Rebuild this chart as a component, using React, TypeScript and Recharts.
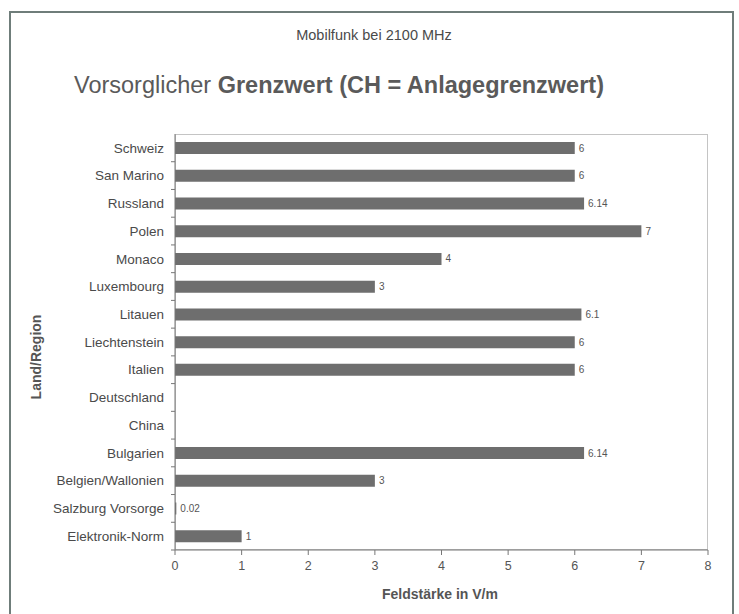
import React from 'react';
import { BarChart, Bar, XAxis, YAxis, LabelList } from 'recharts';

const countries = [
  'Schweiz',
  'San Marino',
  'Russland',
  'Polen',
  'Monaco',
  'Luxembourg',
  'Litauen',
  'Liechtenstein',
  'Italien',
  'Deutschland',
  'China',
  'Bulgarien',
  'Belgien/Wallonien',
  'Salzburg Vorsorge',
  'Elektronik-Norm',
];

const fieldStrength: (number | null)[] = [6, 6, 6.14, 7, 4, 3, 6.1, 6, 6, null, null, 6.14, 3, 0.02, 1];

const xTicks = [0, 1, 2, 3, 4, 5, 6, 7, 8];

const data = countries.map((land, i) => ({ land, wert: fieldStrength[i] }));

const FONT = '"Liberation Sans", Arial, sans-serif';

const PLOT_LEFT = 175;
const PLOT_TOP = 134;
const PLOT_W = 533;
const PLOT_H = 416;

function CategoryTick(props: any) {
  const { x, y, payload } = props;
  const band = PLOT_H / countries.length;
  return (
    <g>
      <text x={x} y={y} dy="0.35em" textAnchor="end" fontSize={13.5} fill="#4a4a4a" fontFamily={FONT}>
        {payload.value}
      </text>
      <line x1={PLOT_LEFT - 4} x2={PLOT_LEFT} y1={y + band / 2} y2={y + band / 2} stroke="#777" />
    </g>
  );
}

export default function App() {
  return (
    <div style={{ position: 'absolute', left: 0, top: 0, width: 739, height: 614, background: '#fff', fontFamily: FONT, overflow: 'hidden' }}>
      <div style={{ position: 'absolute', left: 9, top: 11, width: 721, height: 640, border: '2px solid #6f7d7a' }} />
      <div style={{ position: 'absolute', left: 0, width: 748, top: 27, textAlign: 'center', fontSize: 14.5, color: '#4a4a4a' }}>
        Mobilfunk bei 2100 MHz
      </div>
      <div style={{ position: 'absolute', left: 74, top: 72, fontSize: 23.5, color: '#5a5a5a', whiteSpace: 'nowrap' }}>
        <span>Vorsorglicher </span>
        <span style={{ fontWeight: 'bold' }}>Grenzwert (CH = Anlagegrenzwert)</span>
      </div>
      <div style={{ position: 'absolute', left: PLOT_LEFT, top: PLOT_TOP, width: PLOT_W, height: PLOT_H, border: '1px solid #c4c4c4', boxSizing: 'border-box' }} />
      <div
        style={{
          position: 'absolute',
          left: 36,
          top: 357,
          transform: 'translate(-50%, -50%) rotate(-90deg)',
          fontSize: 14,
          fontWeight: 'bold',
          color: '#555',
          whiteSpace: 'nowrap',
        }}
      >
        Land/Region
      </div>
      <div style={{ position: 'absolute', left: 382, top: 586, fontSize: 14, fontWeight: 'bold', color: '#555', whiteSpace: 'nowrap' }}>
        Feldstärke in V/m
      </div>
      <div style={{ position: 'absolute', left: 0, top: 0 }}>
        <BarChart
          width={739}
          height={614}
          data={data}
          layout="vertical"
          margin={{ top: PLOT_TOP, right: 739 - PLOT_LEFT - PLOT_W, left: 10, bottom: 34 }}
          barCategoryGap={0}
        >
          <XAxis
            type="number"
            domain={[0, 8]}
            ticks={xTicks}
            height={30}
            tickMargin={6}
            tickSize={5}
            stroke="#777"
            tick={{ fontSize: 12.5, fill: '#555', fontFamily: FONT }}
          />
          <YAxis
            type="category"
            dataKey="land"
            width={PLOT_LEFT - 10}
            tickLine={false}
            tickMargin={5}
            stroke="#777"
            tick={<CategoryTick />}
            interval={0}
          />
          <Bar dataKey="wert" fill="#6e6e6e" barSize={12} isAnimationActive={false}>
            <LabelList
              dataKey="wert"
              position="right"
              offset={4}
              fontSize={10}
              fill="#555"
              fontFamily={FONT}
              formatter={(v: any) => (v == null ? '' : String(v))}
            />
          </Bar>
        </BarChart>
      </div>
    </div>
  );
}
